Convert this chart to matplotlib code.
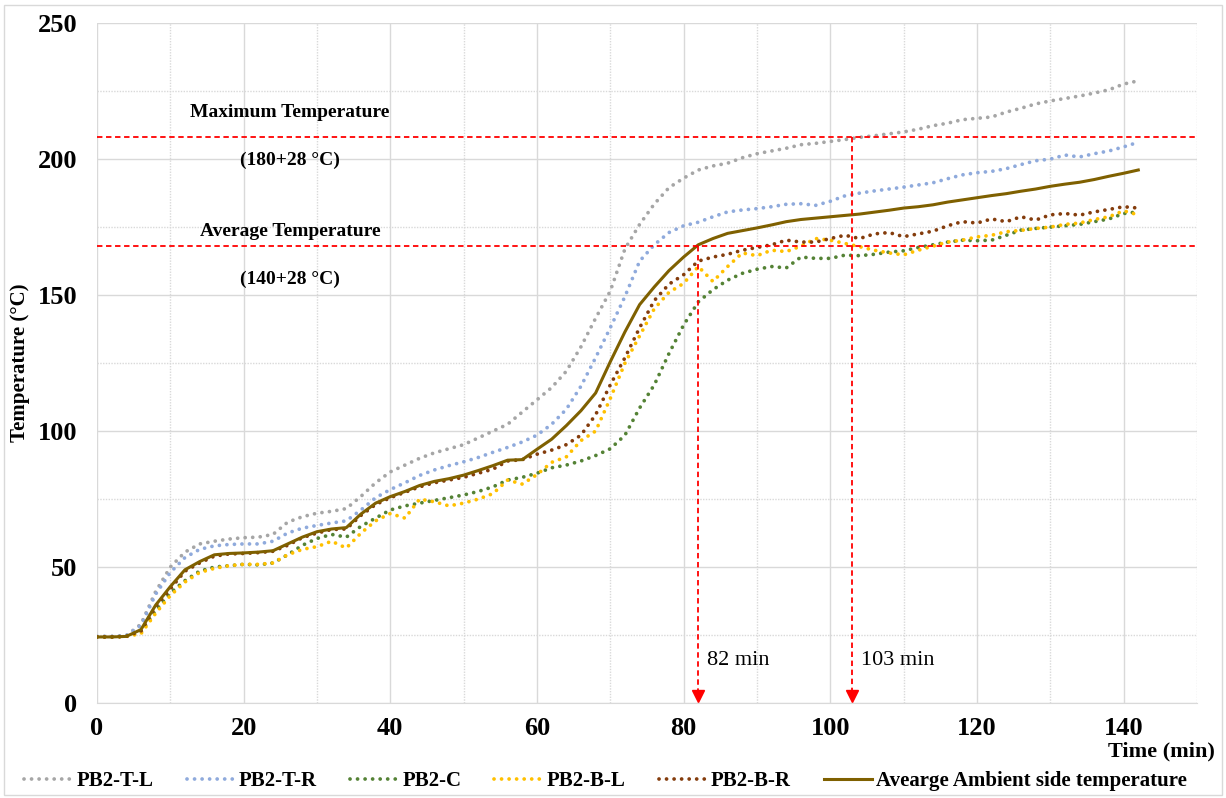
import numpy as np
import matplotlib.pyplot as plt
from matplotlib.patches import Rectangle

# Tiempo de muestreo (min)
tiempo = np.arange(0, 144, 2)

pb2_t_l = [24.5, 24.5, 24.8, 29, 41, 50, 55.5, 58.5, 59.5, 60.3, 60.8, 61, 62, 66.5, 68.5, 69.8,
           70.5, 71.5, 76, 81, 85, 87.5, 90, 92, 93.5, 95, 97.5, 100, 102.5, 107, 111.5, 116,
           122, 131, 141.5, 151.5, 167, 176, 183.5, 189.5, 193, 196, 197.5, 198.5, 200.5, 202,
           203, 204, 205.3, 205.8, 206.5, 207.2, 208, 208.6, 209.3, 210, 211, 212.3, 213.2,
           214.5, 215, 215.5, 217.3, 218.7, 220.3, 221.4, 222.3, 223.2, 224.3, 225.5, 227.6, 228.8]
pb2_t_r = [24.5, 24.5, 24.8, 28.5, 40, 48, 53.5, 56.5, 57.8, 58.3, 58.5, 58.5, 59.5, 62.5, 64.3,
           65.3, 66.2, 67, 71, 75.5, 78.5, 81, 83.7, 85.7, 87.3, 88.7, 90.3, 92.2, 94, 96, 98.5,
           102.5, 108, 116.5, 127, 138, 149.5, 162.5, 168.5, 173, 175.5, 176.8, 178.8, 180.6,
           181.3, 181.8, 182.5, 183.4, 183.6, 183, 184.5, 186.5, 187.5, 188.3, 189, 189.7, 190.5,
           191.3, 192.8, 194.2, 195, 195.5, 196.5, 198, 199.4, 200, 201.5, 200.8, 202, 203, 204.5,
           206.2]
pb2_c = [24.3, 24.3, 24.5, 26, 34, 40.5, 45, 48.5, 50, 50.5, 51, 50.8, 51.5, 54.5, 58, 60.5,
         62, 61, 65, 68, 71, 72.5, 73.5, 74.5, 75.5, 76.5, 77.8, 79.5, 82, 83, 84.5, 86.5, 87.5,
         89, 91, 93.5, 98.5, 108.5, 117, 128.5, 139, 147.5, 152, 155.5, 158, 159.5, 160.5, 160,
         164, 163.5, 163.5, 164.7, 164.5, 165, 165.8, 166.3, 167.5, 168.5, 169.5, 170.2, 170,
         170.2, 172, 173.9, 174.5, 175, 175.5, 176, 177, 178, 180, 180.6]
pb2_b_l = [24.3, 24.3, 24.5, 25.5, 33, 39.5, 44.5, 48, 49.5, 50.5, 51, 51, 51.5, 54.5, 56.5,
           57.5, 59.5, 57, 62.5, 67, 69.7, 68, 75, 74, 72.5, 73.5, 75, 77, 82, 80.5, 84, 88.5,
           90.5, 96.5, 100, 112, 125, 135, 145, 151, 154.3, 160.5, 155, 160.5, 165.5, 164.5,
           166.5, 166, 168, 170.8, 170.2, 169, 167.8, 166.5, 165.5, 164.8, 166.5, 168, 169.5,
           170.2, 171.4, 172, 173.3, 173.8, 174.5, 175, 176, 176.5, 177.8, 178.8, 181, 179.5]
pb2_b_r = [24.3, 24.3, 24.5, 26.5, 35.5, 42, 48.5, 51.5, 54, 54.8, 55, 55.3, 55.8, 58, 60.8,
           62.5, 63.8, 64, 69, 73, 75.5, 77.5, 79.5, 81, 82, 83, 84.5, 86, 89, 89.5, 91.5, 93,
           95, 98.5, 106, 117, 127, 138, 148, 154, 157.5, 162.5, 164, 165, 166.5, 167.5, 168.5,
           170.2, 169.5, 169.5, 170.8, 172, 170.8, 172.5, 173, 171.5, 172.5, 173.5, 175.5, 177,
           176.5, 178, 177, 178.8, 177.6, 179.5, 180, 179.4, 180.6, 181.5, 182.5, 182]
ambiente = [24.3, 24.3, 24.5, 27, 36, 42.8, 49, 52, 54.5, 55, 55.2, 55.5, 56, 58.5, 61, 63, 64,
            64.5, 69.5, 73.5, 75.9, 77.8, 80, 81.5, 82.5, 83.8, 85.5, 87.3, 89.3, 89.5, 93.3,
            97, 102, 107.5, 114, 125.5, 136.5, 146.5, 153, 159, 164, 168.5, 170.8, 172.7,
            173.7, 174.7, 175.8, 177, 177.8, 178.3, 178.8, 179.3, 179.8, 180.5, 181.2, 182,
            182.5, 183.2, 184.2, 185, 185.8, 186.6, 187.3, 188.2, 189, 190, 190.8, 191.5, 192.5,
            193.7, 194.8, 196]

# Límites de temperatura y tiempos en que se alcanzan
temp_limites = [168, 208]
tiempo_limites = [82, 103]

series = [
    ("PB2-T-L", pb2_t_l, "#a6a6a6"),
    ("PB2-T-R", pb2_t_r, "#8faadc"),
    ("PB2-C", pb2_c, "#548235"),
    ("PB2-B-L", pb2_b_l, "#ffc000"),
    ("PB2-B-R", pb2_b_r, "#843c0c"),
]

serif = ["Liberation Serif", "DejaVu Serif"]
plt.rcParams["font.family"] = serif

fig = plt.figure(figsize=(12.26, 7.98), dpi=100)
ax = fig.add_axes([0.0791, 0.119, 0.8972, 0.852])

for nombre, valores, color in series:
    ax.plot(tiempo, valores, color=color, linewidth=2.7,
            dashes=(0.01, 2.0), dash_capstyle="round", label=nombre)
ax.plot(tiempo, ambiente, color="#7f6000", linewidth=2.2,
        label="Avearge Ambient side temperature")

# Líneas de temperatura máxima y promedio
for t_lim in temp_limites:
    ax.axhline(t_lim, color="red", linestyle=(0, (3, 2)), linewidth=1.3)

# Flechas verticales hacia el eje de tiempo
for x_lim, t_lim in zip(tiempo_limites, temp_limites):
    ax.plot([x_lim, x_lim], [t_lim, 3], color="red", linestyle=(0, (3, 2)), linewidth=1.3)
    ax.plot(x_lim, 2.5, marker="v", color="red", markersize=8, clip_on=False)

ax.text(26.3, 217, "Maximum Temperature", ha="center", va="center", fontsize=14, fontweight="bold")
ax.text(26.3, 199.6, "(180+28 °C)", ha="center", va="center", fontsize=14, fontweight="bold")
ax.text(26.3, 173.5, "Average Temperature", ha="center", va="center", fontsize=14, fontweight="bold")
ax.text(26.3, 155.9, "(140+28 °C)", ha="center", va="center", fontsize=14, fontweight="bold")
ax.text(tiempo_limites[0] + 1.2, 15.8, "82 min", ha="left", va="center", fontsize=16)
ax.text(tiempo_limites[1] + 1.2, 15.8, "103 min", ha="left", va="center", fontsize=16)

# Ejes y rejilla
ax.set_xlim(0, 150)
ax.set_ylim(0, 250)
ax.set_xticks(np.arange(0, 160, 20))
ax.set_xticklabels([str(v) if v <= 140 else "" for v in range(0, 160, 20)])
ax.set_xticks(np.arange(10, 160, 20), minor=True)
ax.set_yticks(np.arange(0, 260, 50))
ax.set_yticks(np.arange(25, 260, 50), minor=True)
ax.grid(which="major", color="#d9d9d9", linewidth=1.0)
ax.grid(which="minor", color="#d9d9d9", linewidth=1.0, linestyle=(0, (1, 1)))
ax.set_axisbelow(True)
ax.tick_params(which="both", length=0)
ax.tick_params(axis="x", pad=10, labelsize=19)
ax.tick_params(axis="y", pad=14, labelsize=19)
for lbl in ax.get_xticklabels() + ax.get_yticklabels():
    lbl.set_fontweight("bold")
for s in ["top", "right", "left"]:
    ax.spines[s].set_visible(False)
ax.spines["bottom"].set_color("#d9d9d9")

ax.set_ylabel("Temperature (°C)", fontsize=15, fontweight="bold")
ax.yaxis.set_label_coords(-0.061, 0.5)
fig.text(0.991, 0.058, "Time (min)", ha="right", va="center", fontsize=16, fontweight="bold")

handles, labels = ax.get_legend_handles_labels()
fig.legend(handles, labels, loc="center", bbox_to_anchor=(0.494, 0.021), ncol=6,
           frameon=False, handlelength=2.3, columnspacing=1.6, handletextpad=0.2,
           prop={"family": serif, "weight": "bold", "size": 15})

# Marco exterior de la figura
fig.patches.append(Rectangle((0.003, 0.004), 0.994, 0.99, transform=fig.transFigure,
                             fill=False, edgecolor="#d9d9d9", linewidth=1.0))

plt.savefig("out.png", dpi=100)
